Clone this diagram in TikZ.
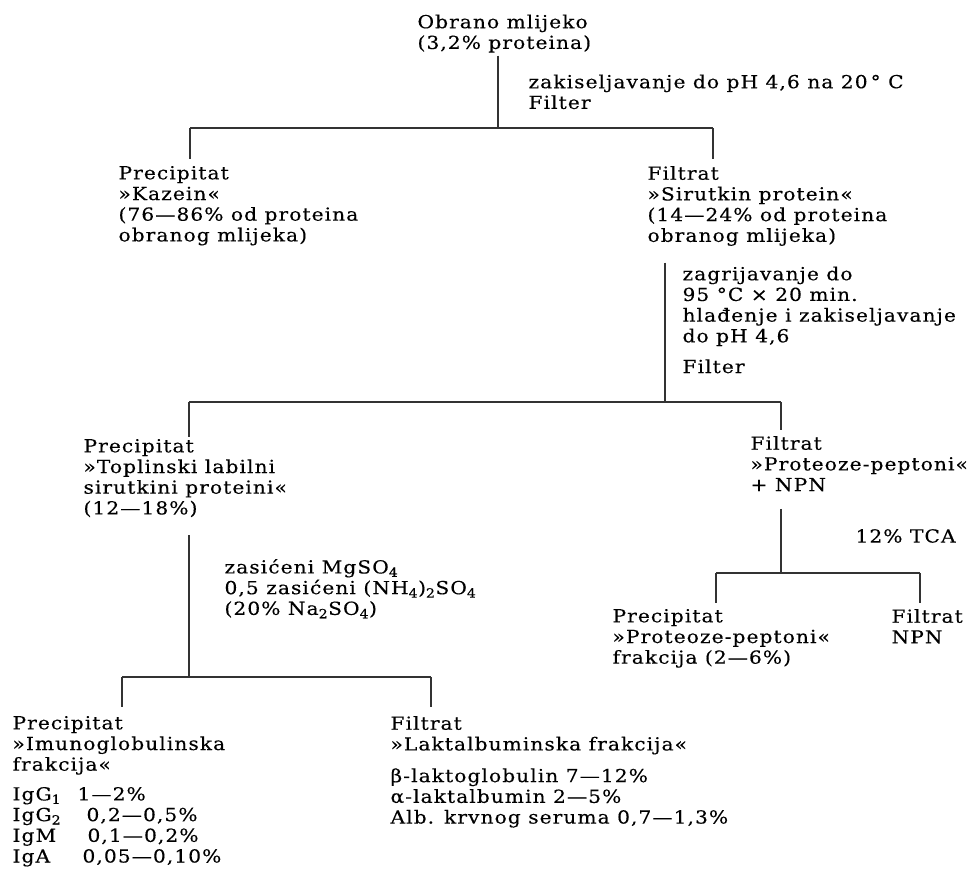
\documentclass[tikz,border=0pt]{standalone}
\usepackage{fontspec}
\setmainfont[FakeStretch=1.12,LetterSpace=6,FakeBold=0.3]{DejaVu Serif}

\begin{document}
\begin{tikzpicture}[x=1pt,y=-1pt,
            every node/.append style = {anchor = north west, align = left, inner sep = 0pt,
                font = \fontsize{18}{20.7}\selectfont, execute at begin node = \strut},
            line width = 1.1pt, draw = black!80]
            \useasboundingbox (0,0) rectangle (972,879);
            \node (mlijeko) at (417,14) {Obrano mlijeko\\(3,2\% proteina)};
            \node (kisel) at (528,74) {zakiseljavanje do pH 4,6 na 20\,° C\\Filter};
            \node (kazein) at (118,165.5) {Precipitat\\»Kazein«\\(76—86\% od proteina\\obranog mlijeka)};
            \node (sirutka) at (647,165.5) {Filtrat\\»Sirutkin protein«\\(14—24\% od proteina\\obranog mlijeka)};
            \node (grijanje) at (682,266) {zagrijavanje do\\95 °C × 20 min.\\hlađenje i zakiseljavanje\\do pH 4,6\\[10pt]Filter};
            \node (toplinski) at (83,438.5) {Precipitat\\»Toplinski labilni\\sirutkini proteini«\\(12—18\%)};
            \node (soli) at (224,558.5) {zasićeni MgSO\textsubscript{4}\\0,5 zasićeni (NH\textsubscript{4})\textsubscript{2}SO\textsubscript{4}\\(20\% Na\textsubscript{2}SO\textsubscript{4})};
            \node (peptoni) at (750,435.5) {Filtrat\\»Proteoze-peptoni«\\+ NPN};
            \node (tca) at (855,527.5) {12\% TCA};
            \node (frakcija) at (612,608.5) {Precipitat\\»Proteoze-peptoni«\\frakcija (2—6\%)};
            \node (npn) at (891,608.5) {Filtrat\\NPN};
            \node (imuno) at (12,715.5) {Precipitat\\»Imunoglobulinska\\frakcija«\\[9pt]\hbox to 65pt{IgG\textsubscript{1}\hfil}1—2\%\\\hbox to 74pt{IgG\textsubscript{2}\hfil}0,2—0,5\%\\\hbox to 75pt{IgM\hfil}0,1—0,2\%\\\hbox to 70pt{IgA\hfil}0,05—0,10\%};
            \node (lakt) at (390,715.5) {Filtrat\\»Laktalbuminska frakcija«\\[11pt]β-laktoglobulin 7—12\%\\α-laktalbumin 2—5\%\\Alb. krvnog seruma 0,7—1,3\%};
            \coordinate (b1) at (498,128);
            \coordinate (b1l) at (190,128);
            \coordinate (b1r) at (713,128);
            \coordinate (b2) at (665,402);
            \coordinate (b2l) at (189,402);
            \coordinate (b2r) at (781,402);
            \coordinate (b3) at (189,677);
            \coordinate (b3l) at (122,677);
            \coordinate (b3r) at (431,677);
            \coordinate (b4) at (781,573);
            \coordinate (b4l) at (716,573);
            \coordinate (b4r) at (920,573);
            \draw (b1 |- mlijeko.south) -- (b1);
            \draw (b1l) -- (b1r);
            \draw[shorten >=7pt] (b1l) -- (b1l |- kazein.north);
            \draw[shorten >=7pt] (b1r) -- (b1r |- sirutka.north);
            \draw[shorten <=14pt] (b2 |- sirutka.south) -- (b2);
            \draw (b2l) -- (b2r);
            \draw[shorten >=2pt] (b2l) -- (b2l |- toplinski.north);
            \draw[shorten >=6pt] (b2r) -- (b2r |- peptoni.north);
            \draw[shorten <=14pt] (b3 |- toplinski.south) -- (b3);
            \draw (b3l) -- (b3r);
            \draw[shorten >=9pt] (b3l) -- (b3l |- imuno.north);
            \draw[shorten >=9pt] (b3r) -- (b3r |- lakt.north);
            \draw[shorten <=11pt] (b4 |- peptoni.south) -- (b4);
            \draw (b4l) -- (b4r);
            \draw[shorten >=6pt] (b4l) -- (b4l |- frakcija.north);
            \draw[shorten >=6pt] (b4r) -- (b4r |- npn.north);
        \end{tikzpicture}
\end{document}
